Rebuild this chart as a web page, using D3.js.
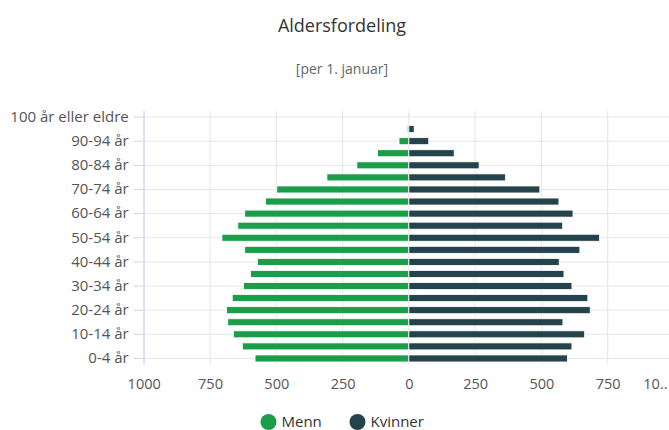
<!DOCTYPE html>
<html>
<head>
	<meta charset="utf-8">
	<script type="text/javascript" src="https://cdn.jsdelivr.net/npm/d3@7/dist/d3.min.js"></script>
	<style>
		body { margin: 0; background: #fff; }
		svg { display: block; font-family: "Open Sans", sans-serif; }
	</style>
</head>
<body>
	<script type="text/javascript">

		// age groups from oldest (top) to youngest (bottom)
		var ageGroups = ["100 år eller eldre", "95-99 år", "90-94 år", "85-89 år", "80-84 år", "75-79 år",
			"70-74 år", "65-69 år", "60-64 år", "55-59 år", "50-54 år", "45-49 år", "40-44 år",
			"35-39 år", "30-34 år", "25-29 år", "20-24 år", "15-19 år", "10-14 år", "5-9 år", "0-4 år"];
		var menn = [0, 6, 37, 118, 196, 309, 498, 541, 619, 645, 705, 619, 571, 597, 624, 666, 688, 683, 662, 628, 580];
		var kvinner = [2, 20, 75, 171, 265, 364, 494, 566, 619, 580, 719, 645, 567, 585, 615, 675, 684, 581, 663, 615, 598];
		var xTicks = [-1000, -750, -500, -250, 0, 250, 500, 750, 1000];
		var seriesNames = ["Menn", "Kvinner"];
		var seriesColors = ["#1b9d4a", "#25434a"];

		var W = 684, H = 430;
		var margin = {top: 111, left: 143.7, right: 10, bottom: 65.5};
		var centerX = W / 2;

		var svg = d3.select('body')
			.append('svg')
			.attr('width', 669)
			.attr('height', H);

		var xScale = d3.scaleLinear()
			.domain([-1000, 1000])
			.range([margin.left, W - margin.right]);

		var yScale = d3.scaleBand()
			.domain(ageGroups)
			.range([margin.top, H - margin.bottom])
			.paddingInner(0.42)
			.paddingOuter(0.21);

		var labelled = ageGroups.filter(function(d, i) {
			return (ageGroups.length - 1 - i) % 2 === 0;
		});
		var yMid = function(d) { return yScale(d) + yScale.bandwidth() / 2; };
		var plotTop = margin.top, plotBottom = H - margin.bottom;

		// grid
		svg.append('g')
			.selectAll('line')
			.data(xTicks)
			.enter()
			.append('line')
			.attr('x1', function(d) { return xScale(d); })
			.attr('x2', function(d) { return xScale(d); })
			.attr('y1', plotTop)
			.attr('y2', plotBottom)
			.attr('stroke', '#e6e6e6');

		svg.append('g')
			.selectAll('line')
			.data(labelled)
			.enter()
			.append('line')
			.attr('x1', margin.left)
			.attr('x2', W - margin.right)
			.attr('y1', yMid)
			.attr('y2', yMid)
			.attr('stroke', '#e6e6e6');

		// bars
		var rows = ageGroups.map(function(d, i) {
			return {age: d, menn: menn[i], kvinner: kvinner[i]};
		});

		svg.append('g')
			.selectAll('rect')
			.data(rows)
			.enter()
			.append('rect')
			.attr('x', function(d) { return xScale(-d.menn); })
			.attr('width', function(d) { return xScale(0) - xScale(-d.menn); })
			.attr('y', function(d) { return yScale(d.age); })
			.attr('height', yScale.bandwidth())
			.attr('fill', seriesColors[0])
			.attr('stroke', '#fff')
			.attr('stroke-width', 0.8);

		svg.append('g')
			.selectAll('rect')
			.data(rows)
			.enter()
			.append('rect')
			.attr('x', xScale(0))
			.attr('width', function(d) { return xScale(d.kvinner) - xScale(0); })
			.attr('y', function(d) { return yScale(d.age); })
			.attr('height', yScale.bandwidth())
			.attr('fill', seriesColors[1])
			.attr('stroke', '#fff')
			.attr('stroke-width', 0.8);

		// y axis (categories)
		var yAxis = svg.append('g')
			.attr('transform', 'translate(' + margin.left + ',0)')
			.call(d3.axisLeft(yScale).tickValues(labelled).tickSize(10).tickPadding(5).offset(0));
		yAxis.select('.domain').attr('stroke', '#ccd6eb').attr('d', 'M0.5,' + plotTop + 'V' + plotBottom);
		yAxis.selectAll('.tick line').attr('stroke', '#ccd6eb');
		yAxis.selectAll('.tick text')
			.attr('fill', '#555')
			.style('font-size', '15px')
			.style('font-family', '"Open Sans", sans-serif');

		// x axis (values)
		var xAxis = svg.append('g')
			.attr('transform', 'translate(0,' + plotBottom + ')')
			.call(d3.axisBottom(xScale).tickValues(xTicks).tickSize(0).tickPadding(14)
				.tickFormat(function(d) { return Math.abs(d); }));
		xAxis.select('.domain').remove();
		xAxis.selectAll('.tick text')
			.attr('fill', '#555')
			.style('font-size', '14.5px')
			.style('font-family', '"Open Sans", sans-serif');

		// shorten labels that run past the chart edge (view is 669 wide)
		xAxis.selectAll('.tick').each(function(d) {
			var t = d3.select(this).select('text');
			var x = xScale(d);
			var s = t.text();
			if (x + t.node().getComputedTextLength() / 2 > 669) {
				t.attr('text-anchor', 'end').attr('x', 667 - x);
				while (s.length > 2) {
					s = s.slice(0, -1);
					t.text(s + '..');
					if (t.node().getComputedTextLength() <= 27) break;
				}
			}
		});

		// title
		svg.append('text')
			.attr('x', centerX)
			.attr('y', 32)
			.attr('text-anchor', 'middle')
			.attr('fill', '#333')
			.style('font-size', '18px')
			.text('Aldersfordeling');

		svg.append('text')
			.attr('x', centerX)
			.attr('y', 74)
			.attr('text-anchor', 'middle')
			.attr('fill', '#666')
			.style('font-size', '14px')
			.text('[per 1. januar]');

		// legend
		var legendX = [268.5, 357.5];
		var legend = svg.append('g')
			.selectAll('g')
			.data(seriesNames)
			.enter()
			.append('g')
			.attr('transform', function(d, i) { return 'translate(' + legendX[i] + ',422)'; });

		legend.append('circle')
			.attr('r', 8)
			.attr('fill', function(d, i) { return seriesColors[i]; });

		legend.append('text')
			.attr('x', 13)
			.attr('y', 5.3)
			.attr('fill', '#333')
			.style('font-size', '15px')
			.text(function(d) { return d; });

	</script>
</body>
</html>
